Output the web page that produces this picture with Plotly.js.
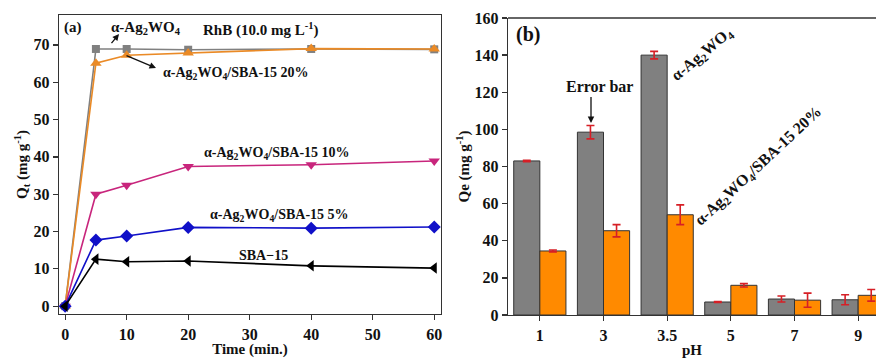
<!DOCTYPE html>
<html>
<head>
<meta charset="utf-8">
<script src="https://cdn.plot.ly/plotly-3.0.1.min.js"></script>
<style>html,body{margin:0;padding:0;background:#fff;}#chart{width:876px;height:358px;}</style>
</head>
<body>
<div id="chart"></div>
<script>
// Panel (a): adsorption vs time
const timeMin = [0, 5, 10, 20, 40, 60];
const agwo4 = [0, 68.9, 68.9, 68.7, 68.9, 68.8];
const sba20 = [0, 65.1, 67.2, 67.8, 69.0, 68.9];
const sba10 = [0, 30.0, 32.4, 37.4, 37.9, 38.9];
const sba5 = [0, 17.7, 18.8, 21.1, 20.9, 21.2];
const sba15 = [0, 12.6, 11.9, 12.1, 10.8, 10.2];
const xTicksA = [0, 10, 20, 30, 40, 50, 60];
const yTicksA = [0, 10, 20, 30, 40, 50, 60, 70];

// Panel (b): Qe vs pH
const pHCats = ['1', '3', '3.5', '5', '7', '9'];
const qeAg = [83, 98.5, 140, 7, 8.6, 8.2];
const qeAgErr = [0.4, 3.6, 2.0, 0.3, 1.6, 2.7];
const qe20 = [34.5, 45.4, 54, 16, 8, 10.6];
const qe20Err = [0.5, 3.3, 5.3, 0.9, 3.8, 3.1];
const yTicksB = [0, 20, 40, 60, 80, 100, 120, 140, 160];

const W = 876, H = 358;
const px = v => v / W;
const py = v => 1 - v / H;
const serif = 'Liberation Serif, Times New Roman, serif';
const tickFont = {family: serif, size: 16, color: '#111', weight: 'bold'};
const titleFont = {family: serif, size: 15, color: '#111', weight: 'bold'};
const axLine = '#333';

function lineTrace(y, color, symbol, size) {
  return {
    x: timeMin, y: y, xaxis: 'x', yaxis: 'y', type: 'scatter', mode: 'lines+markers',
    line: {color: color, width: 1.6},
    marker: {color: color, symbol: symbol, size: size},
    showlegend: false, cliponaxis: false
  };
}

const traces = [
  lineTrace(agwo4, '#808080', 'square', 8),
  lineTrace(sba20, '#EA8A26', 'triangle-up', 10),
  lineTrace(sba10, '#C8257C', 'triangle-down', 10),
  lineTrace(sba5, '#1010C8', 'diamond', 10),
  lineTrace(sba15, '#000000', 'triangle-left', 10),
  {
    x: pHCats, y: qeAg, xaxis: 'x2', yaxis: 'y2', type: 'bar', showlegend: false,
    marker: {color: '#808080', line: {color: '#333', width: 1}},
    error_y: {type: 'data', array: qeAgErr, visible: true, color: '#D61F26', thickness: 1.6, width: 4}
  },
  {
    x: pHCats, y: qe20, xaxis: 'x2', yaxis: 'y2', type: 'bar', showlegend: false,
    marker: {color: '#FF8A00', line: {color: '#333', width: 1}},
    error_y: {type: 'data', array: qe20Err, visible: true, color: '#D61F26', thickness: 1.6, width: 4}
  }
];

const bold = s => '<b>' + s + '</b>';
const agText = 'α-Ag<sub>2</sub>WO<sub>4</sub>';
function label(text, x, y, size, opts) {
  return Object.assign({
    text: bold(text), xref: 'paper', yref: 'paper', x: px(x), y: py(y),
    xanchor: 'left', yanchor: 'middle', showarrow: false,
    font: {family: serif, size: size, color: '#111'}
  }, opts || {});
}
function arrow(hx, hy, ax, ay) {
  return {
    text: ' ', xref: 'paper', yref: 'paper', x: px(hx), y: py(hy), ax: ax, ay: ay,
    showarrow: true, arrowhead: 2, arrowsize: 1, arrowwidth: 1.3, arrowcolor: '#111',
    font: {size: 1}
  };
}

const annotations = [
  label('(a)', 62, 27, 15),
  label(agText, 109, 28, 15),
  label('RhB (10.0 mg L<sup>-1</sup>)', 201, 29, 15),
  label(agText + '/SBA-15 20%', 161, 73, 14),
  label(agText + '/SBA-15 10%', 202, 153, 14),
  label(agText + '/SBA-15 5%', 208, 215, 14),
  label('SBA−15', 237, 255, 14),
  arrow(119, 34, -9, 11),
  arrow(156, 68, -31, -13),
  label('(b)', 514, 35, 20),
  label('Error bar', 564, 87, 16),
  arrow(591, 123, 0, -28),
  label(agText, 702, 54, 16, {xanchor: 'center', textangle: -40}),
  label(agText + '/SBA-15 20%', 758, 166, 16, {xanchor: 'center', textangle: -43})
];

const layout = {
  width: W, height: H,
  margin: {l: 0, r: 0, t: 0, b: 0},
  paper_bgcolor: '#fff', plot_bgcolor: '#fff',
  showlegend: false,
  barmode: 'group', bargap: 0.18, bargroupgap: 0,
  xaxis: {
    domain: [px(59), px(441)], range: [-1, 61.1], tickvals: xTicksA,
    showline: true, mirror: true, linecolor: axLine, linewidth: 1.3,
    ticks: 'outside', ticklen: 5, tickwidth: 1.3, tickcolor: axLine,
    showgrid: false, zeroline: false, tickfont: tickFont,
    title: {text: 'Time (min.)', font: titleFont, standoff: 1}
  },
  yaxis: {
    domain: [py(314), py(15)], range: [-2.1, 78], tickvals: yTicksA,
    showline: true, mirror: true, linecolor: axLine, linewidth: 1.3,
    ticks: 'outside', ticklen: 5, tickwidth: 1.3, tickcolor: axLine,
    showgrid: false, zeroline: false, tickfont: tickFont,
    title: {text: 'Q<sub>t</sub> (mg g<sup>-1</sup>)', font: titleFont, standoff: 2}
  },
  xaxis2: {
    domain: [px(508), 1], range: [-0.5, 5.28], type: 'category', categoryarray: pHCats,
    showline: true, linecolor: axLine, linewidth: 1.3,
    ticks: 'outside', ticklen: 5, tickwidth: 1.3, tickcolor: axLine,
    showgrid: false, zeroline: false, tickfont: tickFont, anchor: 'y2',
    title: {text: 'pH', font: titleFont, standoff: 4}
  },
  yaxis2: {
    domain: [py(315), py(18)], range: [0, 160], tickvals: yTicksB, anchor: 'x2',
    showline: true, linecolor: axLine, linewidth: 1.3,
    ticks: 'outside', ticklen: 5, tickwidth: 1.3, tickcolor: axLine,
    showgrid: false, zeroline: false, tickfont: tickFont,
    title: {text: 'Qe (mg g<sup>-1</sup>)', font: titleFont, standoff: 1}
  },
  shapes: [{
    type: 'line', xref: 'x2 domain', yref: 'y2 domain', x0: 0, x1: 1, y0: 1, y1: 1,
    line: {color: axLine, width: 1.6}
  }],
  annotations: annotations
};

Plotly.newPlot('chart', traces, layout, {displayModeBar: false, staticPlot: true});
</script>
</body>
</html>
